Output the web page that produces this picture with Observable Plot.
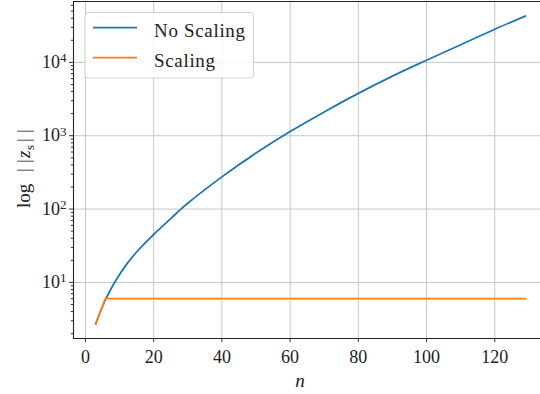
<!DOCTYPE html>
<html><head><meta charset="utf-8">
<script src="https://cdn.jsdelivr.net/npm/d3@7"></script>
<script src="https://cdn.jsdelivr.net/npm/@observablehq/plot@0.6"></script>
<style>
html,body{margin:0;padding:0;background:#fff;}
#chart svg{display:block;}
#chart svg text, #chart svg tspan{font-family:"Liberation Serif","DejaVu Serif",serif !important;}
</style></head><body><div id="chart"></div>
<script>
// ---- data ----
const seriesNames = ["No Scaling", "Scaling"];
const seriesColors = ["#1f77b4", "#ff7f0e"];
const nNoScaling = [3,4,5,6,7,8,10,12,15,20,25,28,30,40,50,60,70,80,90,100,110,120,129];
const vNoScaling = [2.7,3.6,4.7,6.0,7.4,9.0,12.8,17.5,26,45,74,100,120,275,580,1140,2110,3780,6500,10700,17400,28300,42900];
const nScaling = [3,4,5,6,129];
const vScaling = [2.7,3.6,4.7,6.0,6.0];
const xTicks = [0,20,40,60,80,100,120];
const yTicks = [10,100,1000,10000];
const yTickExps = ["1","2","3","4"];
const yMinor = [];
for (let k = 0; k <= 4; k++) for (let m = 2; m <= 9; m++) yMinor.push(m * Math.pow(10, k));
const xLabel = "n";

const rows = [
  ...nNoScaling.map((n, i) => ({n, v: vNoScaling[i], series: seriesNames[0]})),
  ...nScaling.map((n, i) => ({n, v: vScaling[i], series: seriesNames[1]}))
];

const FONT = "'Liberation Serif', 'DejaVu Serif', serif";
const chart = Plot.plot({
  width: 540, height: 394,
  marginLeft: 73, marginRight: 0, marginTop: 1, marginBottom: 56,
  style: {fontFamily: FONT, fontSize: "18px", color: "#222", background: "white", overflow: "visible"},
  x: {domain: [-3.5, 133.4]},
  y: {type: "log", domain: [1.72, 67600]},
  color: {domain: seriesNames, range: seriesColors},
  marks: [
    Plot.gridX(xTicks, {stroke: "#c6c6c6", strokeOpacity: 1, strokeWidth: 1}),
    Plot.gridY(yTicks, {stroke: "#c6c6c6", strokeOpacity: 1, strokeWidth: 1}),
    Plot.axisY(yMinor.filter(v => v >= 1.72 && v <= 67600), {tickSize: 2.2, tickFormat: () => "", label: null, stroke: "#333"}),
    Plot.axisY(yTicks, {tickSize: 4, tickPadding: 3, label: null, stroke: "#333",
      tickFormat: d => "10^" + yTickExps[yTicks.indexOf(d)]}),
    Plot.axisX(xTicks, {tickSize: 4, tickPadding: 8, label: null, stroke: "#333", tickFormat: d => String(d)}),
    Plot.line(rows, {x: "n", y: "v", stroke: "series", z: "series", strokeWidth: 1.8, curve: "monotone-x"}),
    Plot.frame({anchor: "left", stroke: "#222", strokeWidth: 1.1}),
    Plot.frame({anchor: "bottom", stroke: "#222", strokeWidth: 1.1}),
    Plot.frame({anchor: "top", stroke: "#222", strokeWidth: 1.1})
  ]
});
document.getElementById("chart").appendChild(chart);

const svg = d3.select(chart);
// superscript y tick labels
svg.selectAll("g[aria-label='y-axis tick label'] text").each(function() {
  const t = d3.select(this);
  const s = t.text();
  if (!s.includes("^")) return;
  const [base, exp] = s.split("^");
  t.text(base);
  t.append("tspan").attr("dy", "-0.45em").attr("font-size", "13px").text(exp);
});

// y label: log ||z_s||
const yl = svg.append("text")
  .attr("transform", "translate(30,208) rotate(-90)")
  .attr("text-anchor", "start")
  .attr("font-size", "19px").attr("fill", "#222");
yl.append("tspan").attr("x", 0).text("log");
yl.append("tspan").attr("x", 36).text("|");
yl.append("tspan").attr("x", 45).text("|");
yl.append("tspan").attr("x", 50).attr("font-style", "italic").text("z");
yl.append("tspan").attr("x", 58).attr("font-size", "13px").attr("dy", 4).text("s");
yl.append("tspan").attr("x", 66).attr("dy", -4).text("|");
yl.append("tspan").attr("x", 75).text("|");

// x label
svg.append("text")
  .attr("x", 300).attr("y", 387)
  .attr("text-anchor", "middle")
  .attr("font-size", "19px").attr("font-style", "italic").attr("fill", "#222")
  .text(xLabel);

// legend
const lg = svg.append("g");
lg.append("rect").attr("x", 85).attr("y", 12.5).attr("width", 168.5).attr("height", 65.5).attr("rx", 3)
  .attr("fill", "white").attr("fill-opacity", 0.85).attr("stroke", "#d0d0d0");
seriesNames.forEach((name, i) => {
  const y = 27.7 + i * 30;
  lg.append("line").attr("x1", 93).attr("x2", 137).attr("y1", y).attr("y2", y)
    .attr("stroke", seriesColors[i]).attr("stroke-width", 1.8);
  lg.append("text").attr("x", 154).attr("y", y + 8.8)
    .attr("text-anchor", "start")
    .attr("font-size", "19px").attr("fill", "#222")
    .attr("textLength", i === 0 ? 91 : 61).attr("lengthAdjust", "spacing")
    .text(name);
});
</script></body></html>
